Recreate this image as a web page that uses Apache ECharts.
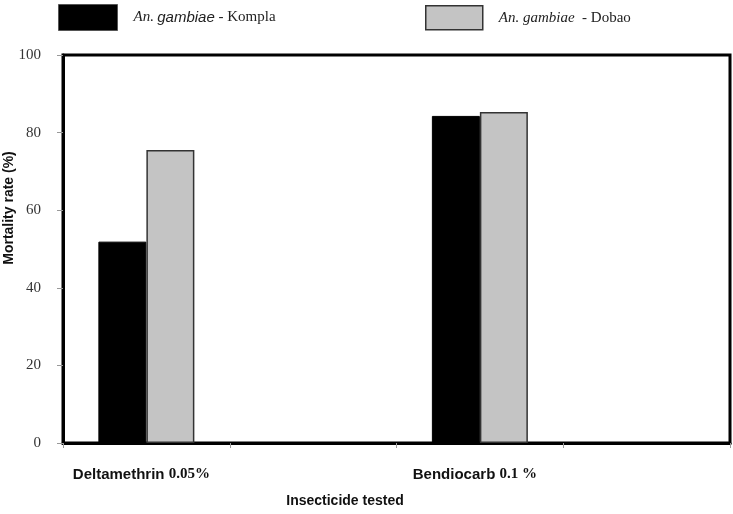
<!DOCTYPE html>
<html>
<head>
<meta charset="utf-8">
<script src="https://cdn.jsdelivr.net/npm/echarts@6/dist/echarts.min.js"></script>
<style>html,body{margin:0;padding:0;background:#fff}#c{width:733px;height:514px}</style>
</head>
<body>
<div id="c"></div>
<script>
// Data
var categories = ['Deltamethrin|0.05%', '', 'Bendiocarb|0.1 %', ''];
var komplaValues = [51.9, null, 84.3, null];
var dobaoValues = [75.5, null, 85.3, null];
var yTicks = [0, 20, 40, 60, 80, 100];
var seriesNames = ['An. gambiae - Kompla', 'An. gambiae - Dobao'];

var chart = echarts.init(document.getElementById('c'));
var serif = '"Liberation Serif", "DejaVu Serif", serif';
var sans = '"Liberation Sans", Arial, sans-serif';
var legendRich = {
  i: { fontFamily: serif, fontStyle: 'italic', fontSize: 15, color: '#222' },
  g: { fontFamily: sans, fontStyle: 'italic', fontSize: 15, color: '#222' },
  n: { fontFamily: serif, fontSize: 15, color: '#222' },
  sp: { width: 11 }
};
chart.setOption({
  animation: false,
  backgroundColor: '#fff',
  legend: [
    {
      data: [seriesNames[0]], left: 58, top: 4, padding: 0, itemWidth: 59, itemHeight: 26, icon: 'rect',
      itemStyle: { borderColor: '#555', borderWidth: 1 },
      formatter: function () { return '{sp|}{i|An.} {g|gambiae}{n| - Kompla}'; },
      textStyle: { rich: legendRich }
    },
    {
      data: [seriesNames[1]], left: 425, top: 5, padding: 0, itemWidth: 57, itemHeight: 24, icon: 'rect',
      itemStyle: { borderColor: '#333', borderWidth: 1.5 },
      formatter: function () { return '{sp|}{i|An. gambiae}{n|  - Dobao}'; },
      textStyle: { rich: legendRich }
    }
  ],
  grid: { left: 63, top: 55, right: 3, bottom: 71, show: true, borderColor: '#000', borderWidth: 3, containLabel: false },
  xAxis: {
    type: 'category',
    data: categories,
    boundaryGap: true,
    axisLine: { lineStyle: { color: '#000', width: 3 } },
    axisTick: { show: true, length: 5, lineStyle: { color: '#999', width: 1 }, interval: 0 },
    axisLabel: {
      interval: 0, margin: 24,
      formatter: function (v) {
        if (!v) return '';
        var p = v.split('|');
        return '{b|' + p[0] + ' }{s|' + p[1] + '}{pad|}';
      },
      rich: {
        b: { fontFamily: sans, fontWeight: 'bold', fontSize: 15, color: '#111' },
        s: { fontFamily: serif, fontWeight: 'bold', fontSize: 15, color: '#111' },
        pad: { width: 10 }
      }
    },
    splitLine: { show: false }
  },
  yAxis: {
    type: 'value', min: 0, max: 100, interval: 20,
    axisLine: { show: true, lineStyle: { color: '#000', width: 3 } },
    axisTick: { show: true, length: 6, lineStyle: { color: '#999', width: 1 } },
    axisLabel: {
      margin: 22, fontFamily: serif, fontSize: 15, color: '#333',
      formatter: function (v) { return yTicks.indexOf(v) >= 0 ? String(v) : ''; }
    },
    splitLine: { show: false }
  },
  series: [
    {
      name: seriesNames[0], type: 'bar', data: komplaValues, barWidth: 48, barGap: '0%',
      itemStyle: { color: '#000', borderColor: '#000', borderWidth: 1 }
    },
    {
      name: seriesNames[1], type: 'bar', data: dobaoValues, barWidth: 48,
      itemStyle: { color: '#c4c4c4', borderColor: '#333', borderWidth: 1.5 }
    }
  ],
  graphic: [
    {
      type: 'text', x: 9, y: 208, rotation: Math.PI / 2,
      style: { text: 'Mortality rate (%)', fontFamily: sans, fontWeight: 'bold', fontSize: 14, fill: '#111', textAlign: 'center', textVerticalAlign: 'middle' }
    },
    {
      type: 'text', x: 345, y: 501,
      style: { text: 'Insecticide tested', fontFamily: sans, fontWeight: 'bold', fontSize: 14, fill: '#111', textAlign: 'center', textVerticalAlign: 'middle' }
    }
  ]
});
</script>
</body>
</html>
